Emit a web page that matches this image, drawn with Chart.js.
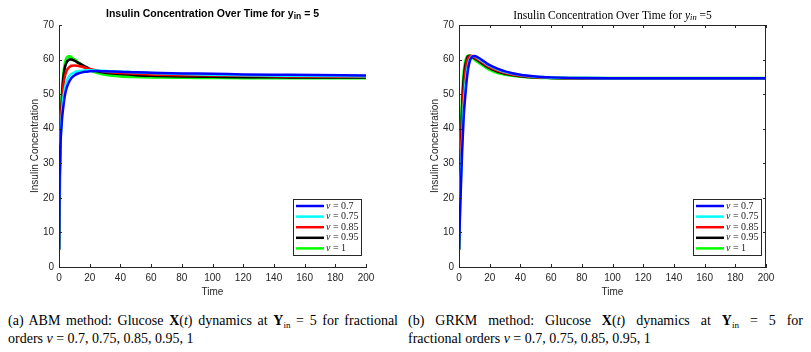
<!DOCTYPE html>
<html>
<head>
<meta charset="utf-8">
<script src="https://cdn.jsdelivr.net/npm/chart.js@4.4.0/dist/chart.umd.min.js"></script>
<style>
  body { margin: 0; background: #fff; width: 811px; height: 352px; overflow: hidden; position: relative; }
  .panel { position: absolute; top: 0; }
  .cap { position: absolute; font-family: "Liberation Serif", serif; font-size: 14px; color: #000; line-height: 18px; }
  .cap .l1 { text-align: justify; text-align-last: justify; white-space: nowrap; }
  .cap b { font-weight: bold; }
  sub { font-size: 9px; vertical-align: -3px; line-height: 0; }
</style>
</head>
<body>
<div class="panel" style="left:0"><canvas id="abmChart" width="400" height="300"></canvas></div>
<div class="panel" style="left:400px"><canvas id="grkmChart" width="411" height="300"></canvas></div>
<div class="cap" style="left:8px; top:312px; width:390px;">
  <div class="l1">(a) ABM method: Glucose <b>X</b>(<i>t</i>) dynamics at <b>Y</b><sub>in</sub> = 5 for fractional</div>
  <div>orders <i>ν</i> = 0.7, 0.75, 0.85, 0.95, 1</div>
</div>
<div class="cap" style="left:408px; top:312px; width:395px;">
  <div class="l1">(b) GRKM method: Glucose <b>X</b>(<i>t</i>) dynamics at <b>Y</b><sub>in</sub> = 5 for</div>
  <div>fractional orders <i>ν</i> = 0.7, 0.75, 0.85, 0.95, 1</div>
</div>
<script>
// sample times (shared by every curve)
const times = [0, 0.5, 1, 2, 3, 4, 5, 6, 7, 8, 10, 12, 15, 18, 20, 25, 30, 40, 50, 60, 80, 100, 120, 150, 200];

const orderLabels = ['ν = 0.7', 'ν = 0.75', 'ν = 0.85', 'ν = 0.95', 'ν = 1'];
const orderColors = ['#0000ff', '#00ffff', '#ff0000', '#000000', '#00ff00'];

// ABM method
const abm07  = [5, 30, 36, 43, 47, 50, 51.8, 53, 53.9, 54.6, 55.4, 55.9, 56.3, 56.5, 56.6, 56.7, 56.6, 56.5, 56.3, 56.2, 56.0, 55.9, 55.7, 55.6, 55.4];
const abm075 = [5, 31, 37, 45, 49.5, 52, 53.7, 54.8, 55.4, 55.8, 56.3, 56.6, 56.8, 56.9, 56.9, 56.8, 56.7, 56.5, 56.3, 56.1, 55.8, 55.6, 55.5, 55.3, 55.2];
const abm085 = [5, 28, 38, 48, 53, 55.5, 56.8, 57.5, 57.9, 58.2, 58.3, 58.2, 57.9, 57.5, 57.3, 56.8, 56.5, 56.1, 55.9, 55.7, 55.5, 55.4, 55.3, 55.1, 55.0];
const abm095 = [5, 26, 38, 50, 55.5, 58, 59.2, 59.8, 60.0, 60.0, 59.7, 59.2, 58.5, 57.8, 57.3, 56.6, 56.2, 55.8, 55.5, 55.3, 55.1, 55.0, 54.9, 54.85, 54.8];
const abm1   = [5, 25, 38, 50, 56, 59, 60.4, 60.9, 60.9, 60.6, 60.0, 59.3, 58.3, 57.5, 57.0, 56.2, 55.7, 55.2, 55.0, 54.9, 54.8, 54.75, 54.7, 54.7, 54.7];

// GRKM method
const grkm07  = [5, 13, 20, 33, 43, 49, 54, 57.5, 59.5, 60.5, 61.0, 60.7, 59.9, 58.9, 58.4, 57.4, 56.6, 55.6, 55.1, 54.85, 54.65, 54.6, 54.6, 54.6, 54.6];
const grkm075 = [5, 14, 22, 36, 46, 52, 56, 58.5, 60, 60.8, 61.0, 60.5, 59.6, 58.7, 58.2, 57.2, 56.4, 55.5, 55.0, 54.8, 54.65, 54.6, 54.6, 54.6, 54.6];
const grkm085 = [5, 18, 28, 42, 51, 56, 59, 60.5, 61.0, 61.1, 60.6, 60.1, 59.2, 58.3, 57.8, 56.8, 56.1, 55.3, 54.9, 54.75, 54.6, 54.6, 54.6, 54.6, 54.6];
const grkm095 = [5, 22, 32, 46, 54, 58, 60, 61, 61.1, 61.0, 60.4, 59.8, 58.9, 58.0, 57.5, 56.5, 55.9, 55.2, 54.85, 54.7, 54.6, 54.6, 54.6, 54.6, 54.6];
const grkm1   = [5, 25, 35, 48, 55.5, 59, 60.6, 61.1, 61.0, 60.8, 60.1, 59.4, 58.5, 57.6, 57.1, 56.2, 55.7, 55.1, 54.8, 54.7, 54.6, 54.6, 54.6, 54.6, 54.6];

const xTicks = [0, 20, 40, 60, 80, 100, 120, 140, 160, 180, 200];
const yTicks = [0, 10, 20, 30, 40, 50, 60, 70];

const axisColor = '#262626';
Chart.defaults.font.family = '"Liberation Sans", Arial, sans-serif';
Chart.defaults.color = axisColor;

function makeDatasets(series) {
  return series.map((vals, i) => ({
    label: orderLabels[i],
    data: times.map((t, k) => ({ x: t, y: vals[k] })),
    borderColor: orderColors[i],
    borderWidth: i === 4 ? 3 : 2.5,
    pointRadius: 0,
    cubicInterpolationMode: 'monotone',
    fill: false
  }));
}

// matlab-ish decorations: inward ticks, optional box, legend and title
const matlabPlugin = {
  id: 'matlab',
  afterDraw(chart, args, opts) {
    const ctx = chart.ctx;
    const a = chart.chartArea;
    const xs = chart.scales.x, ys = chart.scales.y;
    ctx.save();
    ctx.strokeStyle = axisColor;
    ctx.lineWidth = 1;
    ctx.beginPath();
    xTicks.forEach(v => {
      const px = Math.round(xs.getPixelForValue(v)) + 0.5;
      ctx.moveTo(px, a.bottom); ctx.lineTo(px, a.bottom - 3);
      if (opts.box) { ctx.moveTo(px, a.top); ctx.lineTo(px, a.top + 3); }
    });
    yTicks.forEach(v => {
      const py = Math.round(ys.getPixelForValue(v)) + 0.5;
      ctx.moveTo(a.left, py); ctx.lineTo(a.left + 3, py);
      if (opts.box) { ctx.moveTo(a.right, py); ctx.lineTo(a.right - 3, py); }
    });
    if (opts.box) {
      ctx.moveTo(a.left, a.top + 0.5); ctx.lineTo(a.right, a.top + 0.5);
      ctx.moveTo(a.right - 0.5, a.top); ctx.lineTo(a.right - 0.5, a.bottom);
    }
    ctx.stroke();

    // legend
    const lw = 68, lh = 56;
    const lx = a.right - 5 - lw, ly = a.bottom - 12 - lh;
    ctx.fillStyle = '#fff';
    ctx.fillRect(lx, ly, lw, lh);
    ctx.strokeStyle = '#262626';
    ctx.strokeRect(lx + 0.5, ly + 0.5, lw, lh);
    ctx.textBaseline = 'middle';
    ctx.textAlign = 'left';
    chart.data.datasets.forEach((ds, i) => {
      const y = ly + 7 + i * 10.6;
      ctx.strokeStyle = ds.borderColor;
      ctx.lineWidth = 2.5;
      ctx.beginPath();
      ctx.moveTo(lx + 3, y); ctx.lineTo(lx + 31, y);
      ctx.stroke();
      ctx.fillStyle = '#222';
      ctx.font = 'italic 10px "Liberation Serif", serif';
      ctx.fillText('ν', lx + 33, y);
      const w = ctx.measureText('ν').width;
      ctx.font = '10px "Liberation Serif", serif';
      ctx.fillText(ds.label.slice(1), lx + 33 + w, y);
    });

    // title with subscript
    const parts = opts.title;
    const cx = (a.left + a.right) / 2;
    let total = 0;
    parts.forEach(p => { ctx.font = p.font; total += ctx.measureText(p.text).width; });
    let x = cx - total / 2;
    ctx.fillStyle = '#000';
    ctx.textBaseline = 'middle';
    parts.forEach(p => {
      ctx.font = p.font;
      ctx.fillText(p.text, x, opts.titleY + (p.dy || 0));
      x += ctx.measureText(p.text).width;
    });
    ctx.restore();
  }
};

function makeChart(id, series, padRight, opts) {
  return new Chart(document.getElementById(id), {
    type: 'line',
    data: { datasets: makeDatasets(series) },
    options: {
      responsive: false,
      animation: false,
      layout: { padding: { top: 25, right: padRight, left: 0, bottom: 0 } },
      plugins: { legend: { display: false }, tooltip: { enabled: false }, matlab: opts },
      scales: {
        x: {
          type: 'linear', min: 0, max: 200,
          afterFit: s => { s.height = 33; },
          afterBuildTicks: s => { s.ticks = xTicks.map(v => ({ value: v })); },
          grid: { display: false, drawTicks: false },
          border: { display: true, color: axisColor, width: 1 },
          ticks: { padding: 5, font: { size: 10 }, color: axisColor, maxRotation: 0 },
          title: { display: true, text: 'Time', font: { size: 10 }, color: axisColor, padding: { top: 0, bottom: 2 } }
        },
        y: {
          type: 'linear', min: 0, max: 70,
          afterFit: s => { s.width = 59; },
          afterBuildTicks: s => { s.ticks = yTicks.map(v => ({ value: v })); },
          grid: { display: false, drawTicks: false },
          border: { display: true, color: axisColor, width: 1 },
          ticks: { padding: 5, font: { size: 10 }, color: axisColor },
          title: { display: true, text: 'Insulin Concentration', font: { size: 10 }, color: axisColor, padding: { top: 29, bottom: 0 } }
        }
      }
    },
    plugins: [matlabPlugin]
  });
}

const sansB = 'bold 10.5px "Liberation Sans", Arial, sans-serif';
const sansBSub = 'bold 8.5px "Liberation Sans", Arial, sans-serif';
makeChart('abmChart', [abm07, abm075, abm085, abm095, abm1], 34, {
  box: false, titleY: 14,
  title: [
    { text: 'Insulin Concentration Over Time for y', font: sansB },
    { text: 'in', font: sansBSub, dy: 3 },
    { text: ' = 5', font: sansB }
  ]
});

const serif = '11.5px "Liberation Serif", serif';
const serifI = 'italic 11.5px "Liberation Serif", serif';
const serifISub = 'italic 8.5px "Liberation Serif", serif';
makeChart('grkmChart', [grkm07, grkm075, grkm085, grkm095, grkm1], 45, {
  box: true, titleY: 16,
  title: [
    { text: 'Insulin Concentration Over Time for ', font: serif },
    { text: 'y', font: serifI },
    { text: 'in', font: serifISub, dy: 2 },
    { text: ' =5', font: serif }
  ]
});
</script>
</body>
</html>
